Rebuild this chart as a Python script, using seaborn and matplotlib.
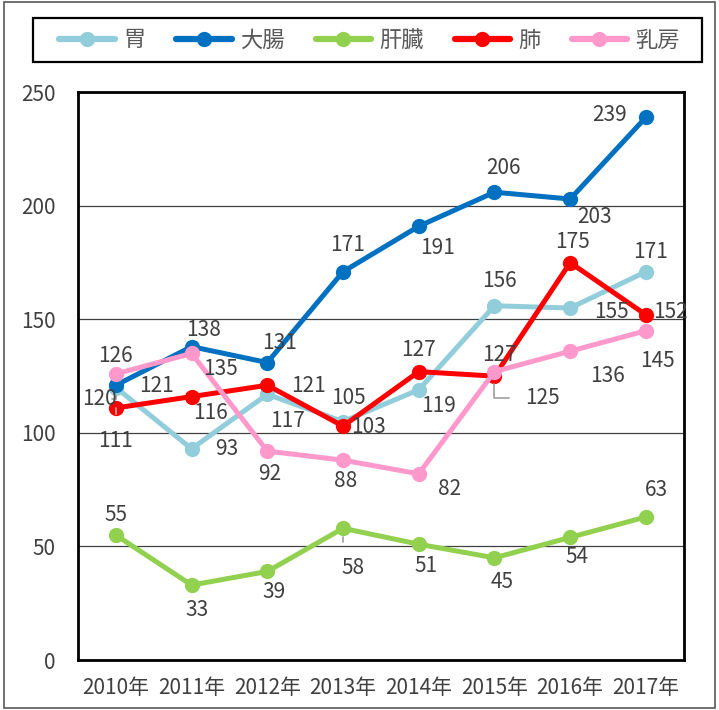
import pandas as pd
import matplotlib
matplotlib.use("Agg")
import matplotlib.pyplot as plt
import seaborn as sns
from matplotlib.patches import Rectangle

# chart data
years = ["2010年", "2011年", "2012年", "2013年", "2014年", "2015年", "2016年", "2017年"]
sites = ["胃", "大腸", "肝臓", "肺", "乳房"]
stomach = [120, 93, 117, 105, 119, 156, 155, 171]
colon = [121, 138, 131, 171, 191, 206, 203, 239]
liver = [55, 33, 39, 58, 51, 45, 54, 63]
lung = [111, 116, 121, 103, 127, 125, 175, 152]
breast = [126, 135, 92, 88, 82, 127, 136, 145]
colors = ["#92CDDC", "#0070C0", "#92D050", "#FF0000", "#FF99CC"]

series = [stomach, colon, liver, lung, breast]

# label offsets in pixels (dx, dy with y pointing down), per series
label_offsets = [
    [(-16, 11), (35, 0), (20, 27), (5, -24), (20, 16), (5, -25), (41, 4), (5, -20)],
    [(41, 1), (12, -17), (12, -20), (5, -27), (19, 22), (9, -24), (24, 18), (-36, -2)],
    [(0, -20), (5, 25), (7, 21), (10, 40), (7, 22), (8, 24), (7, 20), (11, -27)],
    [(0, 33), (19, 16), (41, 1), (25, 1), (0, -22), (48, 22), (2, -21), (25, -3)],
    [(0, -18), (29, 16), (2, 23), (3, 21), (31, 15), (5, -17), (37, 25), (12, 30)],
]
# labels that have a grey leader line back to their point: (series, index)
leaders = [(0, 0), (2, 3), (3, 0), (3, 5)]

rows = []
for name, vals in zip(sites, series):
    for i, v in enumerate(vals):
        rows.append({"x": i, "site": name, "value": v})
df = pd.DataFrame(rows)

sns.set_style("white")
plt.rcParams["font.family"] = ["Noto Sans CJK JP", "DejaVu Sans"]
text_color = "#404040"

fig = plt.figure(figsize=(7.19, 7.10), dpi=100)
ax = fig.add_axes([0.1085, 0.0704, 0.8425, 0.7996])

sns.lineplot(data=df, x="x", y="value", hue="site", hue_order=sites,
             palette=colors, marker="o", markersize=11, markeredgewidth=0,
             linewidth=3.6, ax=ax, legend=False)

for k, (vals, offs) in enumerate(zip(series, label_offsets)):
    for i, (v, (dx, dy)) in enumerate(zip(vals, offs)):
        arrow = None
        if (k, i) in leaders:
            arrow = dict(arrowstyle="-", color="#A6A6A6", lw=1.3,
                         shrinkA=9, shrinkB=6,
                         connectionstyle="angle,angleA=0,angleB=90,rad=0")
        ax.annotate(str(v), (i, v), xytext=(dx, -dy), textcoords="offset pixels",
                    ha="center", va="center", fontsize=15, color=text_color,
                    arrowprops=arrow)

ax.set_xlim(-0.5, 7.5)
ax.set_ylim(0, 250)
ax.set_yticks([0, 50, 100, 150, 200, 250])
ax.set_xticks(range(len(years)))
ax.set_xticklabels(years)
ax.tick_params(axis="both", length=0, labelsize=15, colors=text_color, pad=12)
ax.tick_params(axis="y", pad=16)
ax.set_xlabel("")
ax.set_ylabel("")
ax.yaxis.grid(True, color="#404040", linewidth=0.9)
ax.set_axisbelow(True)
for s in ax.spines.values():
    s.set_visible(True)
    s.set_color("black")
    s.set_linewidth(2)

# legend (entries without frame, box drawn separately)
handles = [plt.Line2D([0], [0], color=c, linewidth=4.5, marker="o", markersize=11,
                      markeredgewidth=0) for c in colors]
leg = fig.legend(handles, sites, loc="center", bbox_to_anchor=(0.514, 0.9437),
                 ncol=5, frameon=False, fontsize=16, handlelength=2.5,
                 columnspacing=1.4, handletextpad=0.36, borderpad=0,
                 borderaxespad=0, labelcolor="#595959")
fig.patches.append(Rectangle((0.0459, 0.9127), 0.9305, 0.062, transform=fig.transFigure,
                             fill=False, edgecolor="black", linewidth=1.6))

# outer chart border
fig.patches.append(Rectangle((0.006, 0.003), 0.988, 0.994, transform=fig.transFigure,
                             fill=False, edgecolor="#595959", linewidth=1.2))

fig.savefig("out.png", dpi=100)
